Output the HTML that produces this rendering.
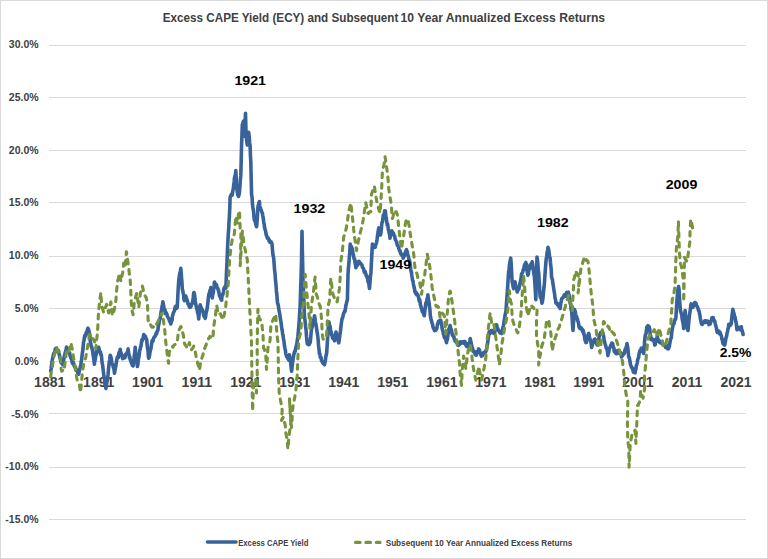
<!DOCTYPE html><html><head><meta charset="utf-8"><style>html,body{margin:0;padding:0;background:#fff;}svg{display:block;}text{font-family:"Liberation Sans",sans-serif;font-weight:bold;}</style></head><body>
<svg width="768" height="559" viewBox="0 0 768 559">
<rect x="0" y="0" width="768" height="559" fill="#fff"/>
<rect x="0.5" y="0.5" width="767" height="558" fill="none" stroke="#d9d9d9" stroke-width="1"/>
<path d="M49 45.5H746M49 97.5H746M49 150.5H746M49 202.5H746M49 256.5H746M49 308.5H746M49 361.5H746M49 413.5H746M49 467.5H746M49 519.5H746" stroke="#d9d9d9" stroke-width="1" fill="none"/>
<g fill="#404040" font-size="10.5" text-anchor="end">
<text x="38.6" y="48.0">30.0%</text>
<text x="38.6" y="100.8">25.0%</text>
<text x="38.6" y="153.6">20.0%</text>
<text x="38.6" y="206.4">15.0%</text>
<text x="38.6" y="259.2">10.0%</text>
<text x="38.6" y="311.9">5.0%</text>
<text x="38.6" y="364.7">0.0%</text>
<text x="38.6" y="417.5">-5.0%</text>
<text x="38.6" y="470.3">-10.0%</text>
<text x="38.6" y="523.1">-15.0%</text>
</g>
<g fill="#404040" font-size="14" text-anchor="middle">
<text x="49.7" y="386.6">1881</text>
<text x="98.7" y="386.6">1891</text>
<text x="147.7" y="386.6">1901</text>
<text x="196.8" y="386.6">1911</text>
<text x="245.8" y="386.6">1921</text>
<text x="294.8" y="386.6">1931</text>
<text x="343.8" y="386.6">1941</text>
<text x="392.8" y="386.6">1951</text>
<text x="441.9" y="386.6">1961</text>
<text x="490.9" y="386.6">1971</text>
<text x="539.9" y="386.6">1981</text>
<text x="588.9" y="386.6">1991</text>
<text x="637.9" y="386.6">2001</text>
<text x="687.0" y="386.6">2011</text>
<text x="736.0" y="386.6">2021</text>
</g>
<text x="162.8" y="21.6" font-size="12.2" fill="#404040" textLength="235.5" lengthAdjust="spacingAndGlyphs">Excess CAPE Yield (ECY) and Subsequent</text>
<text x="400.6" y="21.6" font-size="12.2" fill="#404040" textLength="204.5" lengthAdjust="spacingAndGlyphs">10 Year Annualized Excess Returns</text>
<polyline points="50.7,371.1 51.1,368.7 51.6,365 52,361.7 52.5,358.9 52.9,357.2 53.3,355.2 53.7,353.6 54.1,353.7 54.5,352.4 54.9,351.5 55.3,349.1 55.7,348.6 56.1,348.9 56.5,348 56.9,350 57.4,350.1 57.8,352.1 58.2,350.6 58.6,350.7 59,353.9 59.5,355.2 59.9,357.9 60.4,359.1 60.8,361.7 61.2,362.9 61.6,363.2 62.1,363.3 62.5,363 62.9,364.8 63.4,361.6 63.8,359.2 64.3,356 64.7,355.1 65.2,352.6 65.6,351.2 66.1,350 66.5,347 66.9,348.3 67.3,348.9 67.7,351.6 68.1,350.7 68.5,352 68.9,352.7 69.3,352.7 69.7,352.9 70.1,356.1 70.5,356.3 71,358.4 71.4,358 71.8,359.9 72.2,362.5 72.6,363.4 73,362.1 73.4,362.8 73.8,364.7 74.2,366.1 74.6,366.4 75,367.3 75.4,367.1 75.8,369.2 76.2,370.4 76.6,370 77,370 77.5,371.4 77.9,373.4 78.3,372.2 78.7,374.3 79.1,371.6 79.5,370.3 80,368.2 80.4,366.4 80.8,365.6 81.2,361.6 81.7,359.1 82.1,354.8 82.6,351.4 83,348.9 83.5,342.5 83.9,341 84.4,337.3 84.8,335.6 85.2,336.4 85.7,335 86.1,332.9 86.5,334.1 86.9,331.7 87.2,330.3 87.6,328.9 88,328.2 88.5,329.2 88.9,331 89.4,333.2 89.9,335.3 90.3,341.5 90.8,343.4 91.2,346.4 91.7,346.8 92.1,348.7 92.6,350.9 93,354.4 93.5,357.3 93.9,360.1 94.4,364.2 94.8,360.9 95.3,359.2 95.7,356.2 96.2,354.7 96.6,350.4 97,350.4 97.4,349.1 97.9,348.3 98.3,348.6 98.7,347.3 99.1,349.1 99.5,351 99.9,352.4 100.4,351.8 100.8,354.8 101.2,354.4 101.6,357.1 102,362.2 102.4,363.9 102.9,367.2 103.3,371.1 103.7,374.4 104.1,377.3 104.6,379.5 105,383.8 105.5,386.6 105.9,388.5 106.3,386.1 106.7,383.5 107.2,380.9 107.6,377.6 108,375 108.4,370.2 108.9,365.5 109.3,362 109.8,359.2 110.2,355.2 110.6,356.2 111,357.4 111.5,359.8 111.9,362.6 112.3,364.1 112.7,364.5 113.2,367 113.6,367.8 114.1,370.1 114.5,373.2 114.9,370.4 115.3,368.6 115.8,366.3 116.2,363.3 116.6,361.2 117,358.6 117.4,357 117.8,357.2 118.2,357.8 118.6,354.8 119,352.5 119.4,352.5 119.8,352.4 120.2,349.3 120.6,352.2 121,352.5 121.5,355.4 121.9,356.4 122.3,357.4 122.7,358.6 123.1,356.5 123.5,356.1 124,357.9 124.4,355.5 124.8,357.8 125.2,355.8 125.6,354.3 126,354.4 126.4,353.8 126.9,353.1 127.3,352.1 127.7,352.4 128.1,348.9 128.5,352.2 128.9,354.3 129.4,357.8 129.8,356.6 130.2,359.8 130.6,360 131,361.2 131.4,363.1 131.9,363.7 132.3,365.3 132.7,364.5 133.1,366 133.5,363.2 133.9,359.4 134.4,354.8 134.8,352.4 135.2,347.2 135.6,352.9 136.1,355.2 136.5,358.5 137,362.4 137.4,366.5 137.8,364.7 138.2,360.8 138.6,358.1 139,356.4 139.4,352.8 139.8,349.7 140.2,349.3 140.6,346.7 141,346.3 141.4,343 141.8,339.9 142.2,340.9 142.6,339.2 143,338.8 143.4,336.3 143.8,334.5 144.2,335.6 144.6,335.6 145,336.8 145.5,336.5 145.9,338.8 146.3,338.5 146.7,339.6 147.1,344.3 147.5,348.2 148,350.4 148.4,356.6 148.8,358.2 149.2,357.1 149.6,354.9 150,352.1 150.5,349.8 150.9,348.9 151.3,345.9 151.7,343.3 152.1,340.6 152.5,340.6 152.9,341.2 153.3,339.6 153.8,337.8 154.2,337.2 154.6,336.6 155,336.5 155.4,335.5 155.8,335.1 156.2,332.8 156.7,333.5 157.1,331.4 157.5,330.8 157.9,330.2 158.3,326.7 158.8,324.4 159.2,322.2 159.6,319.9 160,319.2 160.4,316.8 160.8,313.9 161.2,311.1 161.7,309.5 162.1,306.2 162.5,304.3 162.9,301.9 163.3,303.7 163.8,306.9 164.2,309 164.7,310.7 165.1,310.1 165.5,313.6 165.9,313.3 166.4,313 166.8,313.9 167.2,315.4 167.6,316.6 168.1,317.5 168.5,318 169,319.1 169.4,320.9 169.9,321.6 170.3,322.3 170.8,324 171.2,322.4 171.6,320.8 172.1,320.3 172.5,315.4 172.9,314.9 173.3,313 173.8,311.9 174.2,311.3 174.7,309.7 175.1,307.2 175.5,306.9 175.9,306.2 176.4,307.2 176.8,308.3 177.2,307.1 177.6,301.1 177.9,294.3 178.3,287.2 178.7,281 179.1,277.7 179.5,274.8 180,272.3 180.4,271.6 180.8,268.3 181.2,273 181.6,278.6 181.9,281.9 182.3,288.6 182.7,290.6 183.1,292.5 183.6,295.3 184,299.6 184.4,300.7 184.9,299.2 185.3,297.7 185.8,296 186.2,297.3 186.7,299 187.1,299.8 187.6,301.5 188,304 188.4,304.4 188.8,304.4 189.3,307 189.7,304.8 190.1,307.4 190.5,307 191,306.4 191.4,304.8 191.9,303.6 192.3,303.5 192.8,300.2 193.2,298 193.7,292.7 194.1,292.6 194.6,294.7 195,299.1 195.4,302 195.9,305 196.3,305.9 196.7,308.4 197.1,309.7 197.5,311.9 197.9,313.5 198.3,314.8 198.7,318.9 199.1,315 199.4,310 199.8,309.5 200.2,304.8 200.6,306.6 201,307.2 201.5,308.1 201.9,309.5 202.3,309.9 202.7,310.3 203.1,312.6 203.5,314.1 204,316.5 204.4,315.9 204.8,316.5 205.2,318.4 205.6,316.9 206,313.4 206.5,311.3 206.9,310 207.3,307.3 207.8,303.6 208.2,299.1 208.7,295.1 209.1,293.8 209.6,292.2 210,290.4 210.5,289.3 210.9,287.6 211.4,291.5 211.8,295.3 212.3,298 212.7,294.6 213.2,293 213.6,289.2 214.1,286.2 214.5,282 214.9,283.3 215.3,283.6 215.7,284.1 216.1,284.9 216.5,284.8 216.9,286.7 217.3,288.1 217.7,288.1 218.2,290.2 218.6,290.6 219.1,293.5 219.5,295.9 219.9,294.6 220.3,296.5 220.8,299 221.2,299.3 221.6,300.2 222,296.2 222.5,295.4 222.9,294 223.4,292.1 223.8,289.2 224.2,287.9 224.6,287.6 225.1,286.3 225.5,286.6 225.9,288.1 226.2,279.3 226.6,270.4 227,262.1 227.5,249.3 227.9,241.2 228.3,233.8 228.7,228.3 229,222.4 229.4,216 229.8,207.5 230.1,197.2 230.5,196.4 230.9,195.5 231.4,194.3 231.8,194.3 232.2,195.1 232.6,192.5 232.9,190.4 233.3,189 233.7,184.9 234.1,181.9 234.5,177.6 235,175.6 235.4,174.8 235.8,170.6 236.2,178.6 236.5,187.4 236.9,188.2 237.2,191.5 237.6,193.7 238,195.5 238.5,196.4 238.9,195.1 239.4,192.8 239.9,187.2 240.3,180.2 240.8,175.4 241.2,161 241.5,147 241.9,136.3 242.3,124.7 242.8,123.3 243.2,121.8 243.7,121 244.1,129.1 244.4,136.3 244.8,128.2 245.1,121.9 245.5,113.4 246.1,135.8 246.5,139 246.9,142.5 247.3,145 247.8,140.7 248.2,137.5 248.7,132.4 249.2,137 249.6,142.5 250.1,145.6 250.4,154.8 250.8,161.6 251.2,179.2 251.6,194.7 252.1,197.7 252.5,204.8 253,208.4 253.5,210.9 253.9,216.4 254.4,220.2 254.8,220.2 255.3,221.9 255.7,224 256.2,225.8 256.6,226.7 257.1,221 257.5,215.2 258,206.6 258.5,204.8 259,202.3 259.4,201.6 259.8,206 260.1,207.7 260.5,207.9 260.9,209.8 261.4,210.3 261.8,212 262.3,212.9 262.8,215.8 263.2,217.8 263.7,221.8 264.1,223.8 264.6,227.4 265,229.5 265.5,230.6 265.9,233.2 266.3,235.3 266.7,235.7 267.1,237.3 267.5,238.4 267.9,238.6 268.3,238 268.7,239.2 269.1,241.1 269.5,240.2 269.9,242.3 270.4,241.7 270.8,242.6 271.2,241.9 271.6,242.9 272.1,244.5 272.5,250.5 273,255 273.4,256.5 273.8,259.3 274.2,265 274.6,270.1 275.1,274.4 275.5,280.5 275.9,283.7 276.4,290.9 276.8,293.9 277.2,299.3 277.6,303.5 278,304.1 278.4,306 278.9,309.9 279.3,311.6 279.7,313.8 280.1,316.6 280.5,319.3 280.9,321.7 281.3,324.3 281.8,329.1 282.2,329.9 282.6,333.9 283,334.7 283.4,338.9 283.8,340.1 284.2,343.4 284.6,346.9 285,348.7 285.4,350.2 285.8,354 286.2,355.1 286.6,356.5 287,356.1 287.5,357.5 287.9,358.6 288.3,358.1 288.7,360.1 289,356.6 289.4,354.8 289.8,357.8 290.3,361.1 290.7,362.8 291.2,368.1 291.6,371.3 292,367.4 292.4,364.3 292.9,360.3 293.3,358 293.7,354.9 294.1,353.6 294.5,351.5 294.9,352.1 295.4,350.2 295.8,347.5 296.2,346.9 296.6,344.5 297,342.3 297.4,339.5 297.9,336.5 298.3,331.7 298.7,327.2 299.1,322.4 299.4,317.5 299.8,310.5 300.2,305.3 300.6,290.2 301.1,276 301.5,260.5 302,231.3 302.5,256.3 303,282 303.5,291 303.9,301.4 304.4,316 304.8,318.9 305.2,322.4 305.6,326.7 306.1,330.3 306.5,336.4 306.9,340.2 307.3,343.9 307.7,343.9 308.1,343.7 308.5,344.7 309,343.5 309.4,344.5 309.8,342.5 310.2,342.5 310.7,337.8 311.1,333 311.6,328.5 312,327.6 312.4,325.9 312.8,322.3 313.3,322.3 313.7,319.5 314.1,318.9 314.5,315.7 314.9,317.6 315.3,321.3 315.7,323.7 316.1,325.3 316.5,328.1 316.9,330.6 317.3,333.2 317.7,335.9 318.2,340.6 318.6,345.9 319.1,350.3 319.5,354 319.9,353.9 320.3,357.4 320.7,357 321.1,357.4 321.5,360.5 321.9,361 322.3,361.9 322.7,362.7 323.1,363.5 323.6,362.7 324,364 324.5,364.7 324.9,362.6 325.4,360.2 325.8,356.8 326.3,354.8 326.7,352.7 327.1,346.5 327.5,339.7 328,332.6 328.4,326.8 328.8,321.7 329.2,323.5 329.6,326 330,326.1 330.5,329.3 330.9,332.4 331.3,332.2 331.7,334.9 332.1,335.1 332.5,338 332.9,337.7 333.3,337.8 333.7,339 334.1,339.4 334.5,340.8 334.9,338.9 335.2,336.5 335.6,333.9 336,332.1 336.4,333.8 336.8,335.7 337.2,335 337.6,338.3 338,339.8 338.4,341.5 338.8,342.8 339.2,339.9 339.6,337.3 340,333.9 340.5,330.8 340.9,326.8 341.3,323.6 341.7,320.9 342.1,318.6 342.5,318.2 342.9,316.5 343.4,314.3 343.8,312.8 344.2,312.6 344.6,311 345,311.6 345.4,308.9 345.8,305.9 346.2,304.5 346.6,302.5 347,301 347.4,299.7 348,274.4 348.4,268 348.9,263.3 349.3,257.3 349.8,252.5 350.2,244.1 350.6,246.6 351,246.6 351.4,246.6 351.8,248.5 352.2,248.4 352.6,250.6 353,253.7 353.4,254.8 353.8,257.5 354.2,259.2 354.7,259.3 355.1,263.1 355.5,265.2 355.9,267.6 356.3,265.3 356.8,263.4 357.2,265.5 357.7,263.6 358.1,261.7 358.5,261.4 358.9,262.3 359.3,261.5 359.7,263.6 360,263.2 360.4,263.3 360.8,263.4 361.2,264 361.6,264.5 362,265.1 362.4,267.2 362.8,267.7 363.3,268.4 363.7,268.9 364.1,271.5 364.5,272.6 364.9,273 365.3,271.8 365.7,273.8 366.2,275.7 366.6,275.7 367,277.5 367.4,276.9 367.8,280.2 368.2,282.3 368.7,282.2 369.1,286.1 369.5,288.5 370,282.5 370.4,276.6 370.9,272.9 371.3,265.1 371.6,259.3 372,251.2 372.4,244.1 372.8,245.6 373.2,246.5 373.6,245.8 374,247 374.4,247.4 374.8,246.6 375.2,247.2 375.6,244.6 376.1,244.1 376.5,242.6 377,239.6 377.4,236.8 377.9,233.3 378.3,230.3 378.8,227.9 379.2,228.5 379.6,232.3 380.1,232.1 380.5,235 380.9,232.7 381.3,229.7 381.7,224.5 382.1,222.1 382.5,221.9 382.9,219.1 383.3,214.8 383.8,215.2 384.2,215.2 384.6,210.7 385,210.7 385.4,211.2 385.9,217 386.3,217.9 386.8,222.1 387.2,225 387.6,223.9 388,226.8 388.4,230.1 388.8,230.5 389.2,233.5 389.6,234.6 390,238.3 390.4,235 390.8,232.9 391.1,232.4 391.5,231.1 391.9,230.8 392.3,232 392.7,232.9 393.1,233 393.5,233.2 393.9,235.4 394.3,235.5 394.7,235.9 395.1,238.9 395.5,239.8 396,240.8 396.4,241.3 396.8,243 397.2,244.9 397.6,245.8 398,245.8 398.4,246.8 398.9,248.8 399.3,249.7 399.7,251.3 400.1,250.7 400.5,253 400.9,254.3 401.3,254.3 401.7,254.2 402,255.5 402.4,254.4 402.8,255.7 403.2,258.3 403.6,256 404,255.3 404.4,255.9 404.8,253.7 405.3,252.7 405.7,251.3 406.1,252.5 406.5,249.6 406.9,251.3 407.3,251.5 407.7,255 408.2,255.9 408.6,257.7 409,260 409.4,260.3 409.8,261.8 410.2,264.5 410.6,267.9 411,271.4 411.4,272 411.8,275.3 412.2,277.9 412.6,280.5 413,281.1 413.4,284 413.8,286.3 414.2,287.6 414.6,289.5 415,292 415.4,292.6 415.8,293.7 416.2,292.5 416.7,294.9 417.1,294.4 417.5,294.3 417.9,295.4 418.3,296.2 418.8,298.5 419.2,300.9 419.7,299.7 420.1,302 420.5,305.2 420.9,306.1 421.4,308.7 421.8,308.7 422.2,311.5 422.6,310 423,312 423.5,313.8 423.9,314.8 424.3,315.7 424.7,311.9 425.1,308.7 425.4,306.6 425.8,302.9 426.2,303.8 426.6,301.9 427.1,298.5 427.5,299 427.9,294.7 428.3,298.7 428.6,300.2 429,301.9 429.4,306.1 429.9,309.2 430.3,315.4 430.8,318 431.2,320.2 431.6,321.2 432,323.1 432.5,323.9 432.9,326.5 433.3,327.8 433.7,328.8 434.1,328.8 434.5,330.7 434.9,328.8 435.3,329.2 435.7,330.4 436.1,330 436.5,328.9 436.9,328.3 437.2,326.3 437.6,324 438,323.2 438.4,321.7 438.8,322 439.2,320.8 439.6,322.6 440,320.7 440.4,320.9 440.8,320.3 441.2,323.2 441.7,325.1 442.1,328.4 442.6,330.5 443,331 443.4,334.4 443.8,334.2 444.2,337.1 444.6,337.6 444.9,338.3 445.3,337.6 445.7,339.1 446.1,340.9 446.5,342.7 446.9,339.3 447.4,339.5 447.8,335.7 448.3,332.7 448.7,329.4 449.2,328.5 449.6,327.1 450.1,325.5 450.5,327.5 451,329.9 451.4,329.6 451.9,332.9 452.3,335.3 452.7,334.1 453.1,335.9 453.5,336.6 453.9,336.8 454.3,339.3 454.7,339.1 455.1,341.1 455.5,341.1 455.9,341.2 456.3,342.3 456.8,342.4 457.2,342 457.6,345 458,344.8 458.4,345.3 458.8,342.7 459.2,344.8 459.6,344.5 460,343.6 460.4,341.8 460.8,343.4 461.2,342.6 461.6,342.8 462,342.8 462.4,341.9 462.8,342.3 463.3,342.2 463.7,343.2 464.1,341.7 464.5,343.5 464.9,341.5 465.3,343.1 465.7,345 466.1,343.6 466.5,346.2 466.9,346.8 467.3,346.8 467.7,346.1 468.1,346.5 468.5,343.9 469,343.5 469.4,342.6 469.8,342.2 470.2,338.5 470.6,340.4 471,341.9 471.4,344.2 471.8,346.3 472.2,347.9 472.6,348.4 473,351.2 473.4,350.6 473.8,351.8 474.2,351.2 474.6,353.1 475,352.5 475.4,354.6 475.8,355 476.2,355.2 476.6,352.7 477,351.5 477.5,352.5 477.9,351.5 478.3,350.2 478.7,348.9 479.1,351.5 479.5,350.1 479.9,352.1 480.3,354.2 480.7,353.9 481.1,355.3 481.5,356.2 481.9,355.9 482.3,355.8 482.7,355.1 483.2,353.8 483.6,352.7 484,353.1 484.4,352.4 484.8,352.6 485.2,352.7 485.7,351.8 486.1,350 486.5,350.2 486.9,347.4 487.3,344.5 487.6,343.3 488,340.2 488.4,337.4 488.8,333.5 489.2,331.8 489.6,332.7 490,333.6 490.5,331.9 490.9,331.4 491.3,330.6 491.7,330.6 492.1,330.6 492.5,332.4 492.9,331.3 493.3,331.6 493.7,333.3 494.1,333.2 494.5,333.6 494.9,331.3 495.2,328.7 495.6,326.8 496,324.8 496.4,325.5 496.8,325 497.2,328.6 497.6,328.1 498,329.1 498.4,330.3 498.8,331 499.2,331.1 499.6,331.9 500,332.9 500.5,332.2 500.9,333 501.3,331.7 501.7,333.6 502.1,330.4 502.5,330.1 503,327.2 503.4,325.6 503.8,323.4 504.2,320.5 504.7,318.5 505.1,315 505.6,312.8 506,311 506.5,303.2 506.9,297.4 507.4,291.4 507.8,284.3 508.2,278.1 508.6,271.7 509,269.5 509.4,265.2 509.9,262.7 510.3,259.9 510.7,258.2 511.1,262.5 511.5,269.5 511.8,276.1 512.2,282.1 512.7,283.9 513.1,286.5 513.6,288.7 514.1,287.4 514.5,285.2 515,281.8 515.4,285.4 515.9,286.6 516.3,288 516.8,289.5 517.2,292 517.6,290.5 518,290.3 518.5,288.6 518.9,289 519.3,286 519.7,283.9 520.2,283.6 520.6,280.4 521.1,278.3 521.5,273.8 521.9,273.8 522.3,272.9 522.8,271.7 523.2,269.7 523.6,269.9 524,267.6 524.5,264.8 524.9,266.4 525.4,263 525.8,262.5 526.2,263.8 526.6,266.5 527.1,270.8 527.5,273.6 527.9,275.2 528.3,274 528.8,270.7 529.2,268.2 529.7,268.7 530.1,264.9 530.5,265.5 530.9,264.9 531.4,263.5 531.8,263.6 532.2,261.8 532.6,264.9 533.1,267.8 533.5,271.3 534,274.4 534.4,276.6 534.9,283.9 535.3,290.3 535.8,299.6 536.2,284.7 536.6,269.5 537,257 537.4,259.2 537.9,264.8 538.3,270.3 538.7,273.1 539.2,281.7 539.6,288 540.1,296.3 540.5,297.6 541,297 541.4,299.5 541.9,303.1 542.3,302.3 542.7,300 543.1,296.4 543.6,291 544,287.8 544.4,283.3 544.9,275.9 545.3,270.1 545.8,263.3 546.2,259.1 546.7,256.3 547.1,252.4 547.6,250.1 548,247.2 548.4,248.7 548.8,250.3 549.3,254.6 549.7,257.3 550.1,257.9 550.5,263 550.9,266.7 551.2,269.4 551.6,277.5 552,278.3 552.4,279.3 552.9,283.7 553.3,285.6 553.7,288.4 554.1,291 554.6,294 555,297.8 555.5,299.6 555.9,303.1 556.3,302.5 556.8,302.8 557.2,304.4 557.6,304.8 558,303.8 558.5,305.8 558.9,306.7 559.3,305.3 559.8,306.5 560.2,308.6 560.7,303.7 561.1,301.9 561.6,299.2 562,298.3 562.5,297.9 562.9,297.8 563.3,297.1 563.8,296.6 564.2,294.8 564.6,295.8 565,294.5 565.5,295.9 565.9,296.1 566.3,295 566.7,292.2 567.1,294.5 567.5,293.6 567.9,292.4 568.3,292.1 568.7,293.7 569.1,294.9 569.5,297.8 569.8,300.5 570.2,303.7 570.7,303.6 571.1,309.6 571.6,310.9 572.1,317.4 572.5,324.4 573,330.4 573.4,323.3 573.8,320.6 574.1,315 574.5,309.3 574.9,311 575.3,311.7 575.8,315 576.2,317 576.6,316.7 577,318.3 577.4,318.9 577.8,320.9 578.3,322.1 578.7,324.4 579.1,327.2 579.5,328 579.9,328.3 580.3,327.1 580.7,328.8 581.1,327.9 581.5,328.1 581.9,329.7 582.3,329.4 582.7,331.8 583.1,330.3 583.5,331.7 583.9,334.4 584.3,334.7 584.7,338 585.1,340.6 585.5,341 585.9,342.6 586.3,342.5 586.7,339.2 587.1,339 587.6,336.9 588,336.1 588.4,333.8 588.8,333.5 589.2,335.5 589.6,338.5 590,338.8 590.5,341.5 590.9,341.8 591.3,344.6 591.7,347.5 592.1,345 592.5,344.8 592.9,342.9 593.3,342.8 593.7,341.6 594.1,339.6 594.5,339.2 594.9,339.1 595.3,340.4 595.7,341.6 596.2,342.4 596.6,343.2 597,344.9 597.4,343.9 597.8,342.6 598.2,339.7 598.6,340.2 599.1,337 599.5,335.8 599.9,334.2 600.3,333.3 600.7,332.5 601.1,332.2 601.6,332.2 602,331.5 602.4,331.5 602.8,332.6 603.2,334.7 603.6,336.1 604.1,339.6 604.5,341.4 604.9,343.1 605.3,344.7 605.7,345.6 606.2,348.2 606.6,348.2 607,349.1 607.5,351.8 607.9,355.6 608.3,352.9 608.8,352.2 609.2,348.7 609.7,348.3 610.1,347.1 610.5,346 610.9,344.9 611.4,344.9 611.8,343.1 612.2,344.3 612.6,343.4 613,345.2 613.5,347.2 613.9,348 614.3,351.5 614.7,351.2 615.2,350.7 615.6,353.2 616.1,353.5 616.5,352.7 616.9,353.7 617.3,352.8 617.8,350.9 618.2,350.2 618.6,350.3 619,351.8 619.4,353 619.8,353.7 620.3,353 620.7,352.7 621.1,353.6 621.5,357 621.9,356.2 622.3,355.9 622.7,354.6 623.2,354.3 623.6,354.2 624,353.8 624.4,353.1 624.8,350.8 625.3,349 625.7,348.8 626.1,347.1 626.6,347 627,343.5 627.4,345.7 627.9,348.5 628.3,352.9 628.7,357.1 629.1,357.2 629.5,358.7 630,361.3 630.4,363.9 630.8,365.3 631.2,366.3 631.7,367.5 632.1,367.6 632.6,369.1 633,370.5 633.4,372.2 633.8,369.6 634.3,371.4 634.7,372.7 635.1,372.8 635.5,370.6 636,368.2 636.4,365.4 636.9,364.3 637.3,362.6 637.7,359.6 638.1,358.5 638.6,357.3 639,354.2 639.4,352.9 639.8,350.8 640.3,351.9 640.7,350.9 641.2,348.2 641.6,348.8 642,349 642.4,348.1 642.9,351.1 643.3,352 643.7,353.4 644.2,347.8 644.6,341.2 645.1,336.7 645.5,334.3 646,333.9 646.4,330.5 646.9,326.9 647.3,328.7 647.7,327.6 648.1,325.7 648.6,326.7 649,326.6 649.4,327.9 649.8,329.5 650.1,333.8 650.5,335.3 650.9,339.4 651.3,338.4 651.7,338.2 652.2,340 652.6,339.6 653,340.5 653.4,339.6 653.9,341 654.3,342.4 654.8,345.1 655.2,344.7 655.6,341.6 656,339 656.5,341.6 656.9,338.9 657.3,336.2 657.7,338.8 658.1,339.5 658.5,341.4 659,340.6 659.4,340.9 659.8,342.7 660.2,341.8 660.6,342.8 661,342.5 661.4,343.1 661.8,342.7 662.2,342.8 662.6,343.3 663,344.7 663.4,344.6 663.8,344.7 664.2,345.4 664.7,345.8 665.1,345.8 665.5,347.3 665.9,346 666.3,346.5 666.7,346.2 667.1,347.9 667.6,348.6 668,345.5 668.4,348.9 668.8,347.8 669.2,347 669.6,344.7 670.1,341.6 670.5,339.5 670.9,338.4 671.3,337.8 671.8,331.9 672.2,329.7 672.7,326.9 673.1,324.1 673.5,324.2 673.9,323.9 674.3,321.2 674.7,320.6 675.1,319 675.5,319.5 675.9,317.2 676.3,310.6 676.8,302.8 677.2,296.7 677.7,292.1 678.1,287.9 678.6,286.5 679,289 679.4,296.2 679.7,301.4 680.1,306.5 680.5,311.2 680.9,312.1 681.4,313.8 681.8,315.7 682.2,319 682.6,320.8 683,322.8 683.3,324.6 683.7,328.5 684.2,322.2 684.6,316.6 685.1,310.5 685.6,315.2 686,320.7 686.5,323.8 686.9,326.4 687.2,327.2 687.6,329.1 688,330.5 688.5,325.1 688.9,320.4 689.4,315.7 689.9,312.5 690.3,310.1 690.8,305.1 691.2,303.9 691.7,307.3 692.1,306 692.6,306.1 693,307.3 693.4,306 693.8,305.1 694.3,303.8 694.7,302.6 695.1,302.5 695.5,303.7 696,303.3 696.4,305.4 696.9,305.7 697.3,306.8 697.7,307.5 698.1,308.8 698.6,310.8 699,310.8 699.4,313 699.8,314.4 700.3,318.3 700.7,320 701.2,322.6 701.6,324.1 702,323.4 702.4,324.4 702.8,322.9 703.2,322.6 703.6,322.4 704,322.4 704.4,321.6 704.8,320.8 705.2,320.8 705.6,322.4 706.1,321.3 706.5,321.4 706.9,320.9 707.3,322.3 707.7,322.4 708.1,322 708.5,321.4 709,324.6 709.4,323.2 709.8,323.1 710.2,324 710.6,322.1 711,321.6 711.5,319.7 711.9,317.8 712.3,317.8 712.7,317.5 713.2,317.5 713.6,320.2 714.1,320.3 714.5,320.7 714.9,321.7 715.3,323.9 715.7,325.4 716.1,326.9 716.5,328.3 716.9,331.2 717.3,332.4 717.7,332.1 718.1,332.5 718.5,331.8 719,331.2 719.4,333 719.8,333.9 720.2,332.4 720.6,333.9 721,335.3 721.5,336.3 721.9,339.2 722.3,339.3 722.7,342.4 723.2,343.8 723.6,343.7 724.1,344.7 724.5,345.2 724.9,344.6 725.3,342 725.8,338.7 726.2,337.2 726.6,336.3 727,333.2 727.5,331.7 727.9,329.2 728.4,327.8 728.8,324.3 729.2,325.2 729.6,325.3 730.1,325.5 730.5,324.1 730.9,324.6 731.3,323.6 731.7,318.5 732,315.3 732.4,313.1 732.8,309.2 733.2,310.8 733.6,312.6 734.1,314.1 734.5,316.6 735,316.9 735.4,319.5 735.9,321.8 736.3,323.5 736.6,326.5 737,329.8 737.4,329.3 737.8,328.9 738.2,328.6 738.7,328 739.1,327.4 739.5,327.6 739.9,329 740.4,329.8 740.8,328.1 741.3,326.8 741.7,329.9 742.2,330.6 742.6,332.2 743.1,334.5" fill="none" stroke="#38629a" stroke-width="3.6" stroke-linecap="round" stroke-linejoin="round"/>
<polyline points="50.7,376.8 51.1,373.1 51.6,370.9 52,368.2 52.5,365.9 52.9,362.4 53.3,360.8 53.7,358.6 54.1,356.4 54.5,354.4 54.9,352.5 55.3,350.5 55.7,348.2 56.1,349.2 56.6,349.3 57,348.6 57.5,350.8 57.9,350.6 58.3,351.5 58.7,352.9 59.2,353.9 59.6,354.8 60,355.5 60.4,359.8 60.8,363.1 61.1,368.2 61.5,371.1 61.9,371.1 62.3,370.8 62.7,370.4 63.1,369.8 63.5,369.7 63.9,367.7 64.3,368.6 64.7,365.1 65.2,361.6 65.6,358.9 66.1,354.5 66.5,351.4 66.9,350.4 67.3,351.2 67.7,350.2 68.1,350 68.5,351.4 68.9,350.5 69.3,350 69.7,348.3 70,345.9 70.4,344.2 70.8,343 71.2,344 71.6,347 72.1,348.1 72.5,350.9 72.9,352.4 73.3,356.4 73.8,359 74.2,361.3 74.7,363.6 75.1,366.9 75.5,369.8 75.9,372 76.4,375.1 76.8,378 77.2,380.1 77.6,380.8 78.1,382.1 78.5,382.5 79,383.9 79.4,384.2 79.8,387.9 80.1,390 80.5,392.5 80.9,388.3 81.3,383.4 81.8,378.6 82.2,374.3 82.6,372.2 83,368.5 83.3,366.8 83.7,364.3 84.1,362.8 84.5,361.8 85,359.5 85.4,358.9 85.8,357.1 86.2,354.6 86.7,351.9 87.1,349.3 87.6,346.6 88,344.4 88.5,341.8 88.9,338 89.4,334.6 89.8,335.1 90.2,335.2 90.7,336.2 91.1,337.4 91.5,336.6 91.9,337.9 92.3,338.4 92.7,338.5 93.2,339.1 93.6,339.7 94,340.5 94.4,340.5 94.9,343.5 95.3,345.8 95.8,348.9 96.2,345.1 96.5,341.5 96.9,337.7 97.3,334.5 97.8,326.8 98.2,318.1 98.7,310.3 99.2,306.1 99.6,301.6 100.1,297.7 100.5,295.2 100.9,292.5 101.2,298.3 101.6,304.8 102,306.4 102.4,308.3 102.9,309.7 103.3,311.4 103.7,312.3 104.1,312.3 104.5,310.2 104.9,309.8 105.4,307.7 105.8,306.6 106.2,305.8 106.6,304.3 107,305.9 107.4,308.2 107.9,309.9 108.3,311.4 108.7,312.9 109.1,310.4 109.6,308.2 110,305.9 110.5,303.9 110.9,301.9 111.4,306.3 111.8,310.8 112.3,315.6 112.7,315 113.2,313.1 113.6,311.7 114.1,310.2 114.5,308.9 115,305.9 115.4,303.5 115.9,300.5 116.4,293.3 116.8,288.7 117.3,284.2 117.7,280.5 118.2,279 118.6,277.4 119.1,274.9 119.5,273.4 120,275.3 120.4,278.1 120.9,281.4 121.3,278.9 121.8,276.5 122.2,274.9 122.7,272.5 123.1,270.1 123.4,266.3 123.8,263 124.3,264.3 124.7,265.5 125.2,267.4 125.6,262.1 126,256.8 126.4,251.8 126.9,254.6 127.4,258.5 127.9,261.7 128.3,265.8 128.8,268.8 129.3,273.3 129.7,276.9 130.2,280 130.6,286.8 130.9,294.6 131.2,301.4 131.6,308.6 132,309.7 132.3,311.8 132.7,313.1 133.1,314.7 133.6,310.3 134,305.5 134.5,300.7 134.9,299.8 135.4,297.9 135.8,296.2 136.3,295.1 136.7,293 137.1,296.5 137.5,298.8 138,301.9 138.4,304.6 138.8,307.6 139.3,302.5 139.7,299.1 140.2,294.4 140.6,292.3 141.1,291.2 141.5,289.4 142,288 142.4,286.1 142.9,288.3 143.3,289.9 143.8,293.7 144.2,294.5 144.7,295 145.1,295.8 145.6,296.9 146,297 146.5,299.5 146.9,301.1 147.4,302.6 147.8,311.6 148.1,320.1 148.5,321.2 148.9,321.4 149.3,321 149.7,322 150.2,323.8 150.6,324.9 151.1,325.8 151.5,326.7 151.9,327.1 152.4,326.6 152.8,326.6 153.2,327.1 153.7,326.7 154.1,326.2 154.5,325.9 154.9,326.1 155.4,326.7 155.8,325.7 156.3,325.6 156.7,323.7 157.2,322.9 157.6,322.5 158,321.1 158.4,320.6 158.9,319.2 159.3,319.2 159.7,318.6 160.1,317 160.5,316.5 160.9,315.4 161.4,313.9 161.8,315 162.2,313.3 162.6,315.9 163,318.3 163.5,320.7 163.9,324.2 164.3,325.1 164.8,330.9 165.2,336.1 165.7,341.4 166.1,345 166.4,347.7 166.8,350.6 167.2,353.9 167.7,357.4 168.1,360.5 168.6,363.3 168.9,357.9 169.3,351.4 169.7,351.4 170.1,350.6 170.5,349.7 171,348.8 171.4,348.9 171.8,347.6 172.2,347.2 172.6,346.5 173,347.2 173.4,346 173.9,345.4 174.3,345.1 174.7,344.7 175.1,344.4 175.5,343.1 175.9,342.8 176.4,342.9 176.8,342.5 177.2,341.1 177.7,338.2 178.1,334.6 178.6,330.6 179,330.4 179.5,329.1 179.9,328.8 180.4,327.4 180.8,326.5 181.2,327.2 181.6,329.1 182.1,329.6 182.5,331.7 182.9,333.5 183.3,334.9 183.7,338.3 184,341 184.4,342.9 184.8,344.3 185.2,344.8 185.7,345.4 186.1,345.6 186.5,346.9 186.9,346.1 187.3,347 187.7,345.6 188.2,344.8 188.6,343.7 189,344.3 189.4,342.5 189.8,345 190.2,346.3 190.7,347.3 191.1,348.4 191.5,350.1 191.9,348.7 192.4,348.6 192.8,348.2 193.3,347 193.7,346.2 194.1,347.2 194.5,349.4 195,350.5 195.4,352.5 195.8,354.7 196.2,357.2 196.6,358 196.9,359.8 197.3,360.8 197.7,363.4 198.1,364.7 198.6,366.2 199,367.9 199.4,370.3 199.9,367.2 200.3,364.7 200.8,361.5 201.2,360.2 201.6,359.3 202,357.6 202.5,356.2 202.9,355 203.3,353.1 203.7,351.2 204.1,350.1 204.5,348.5 204.9,348.1 205.4,346.5 205.8,345.7 206.2,344.6 206.6,342.7 207,342.2 207.4,341.9 207.8,340.5 208.2,340.1 208.6,338.8 209,337.6 209.4,337.1 209.8,336.4 210.2,337.5 210.6,337 211,337.7 211.4,336.7 211.8,337.3 212.2,337.3 212.6,337.1 213,337.4 213.3,331.9 213.7,326.8 214.1,324.1 214.4,322 214.8,319.4 215.2,317.3 215.7,313.2 216.1,309.3 216.6,305.4 217.1,307.3 217.5,310.4 218,313.1 218.4,312.6 218.8,313.2 219.2,313.8 219.7,313.4 220.1,314 220.5,313.9 220.9,315.3 221.3,316 221.7,317.1 222.2,317.4 222.6,319.1 223,319.9 223.4,318.1 223.9,315.8 224.3,314.1 224.8,311.7 225.2,310.1 225.7,307 226.1,302.1 226.6,298.5 227,295.9 227.3,292.7 227.7,288.9 228.1,286 228.6,278 229,270.2 229.5,262.6 229.9,256.8 230.4,252.5 230.8,247.4 231.3,244.7 231.7,242.8 232.2,239.7 232.6,238.2 233.1,237.8 233.5,235.4 234,235.1 234.4,233.4 234.9,227.5 235.3,222.1 235.8,216.3 236.3,219.1 236.7,220.4 237.2,223.6 237.6,219.7 238.1,217.9 238.5,214.1 239,212.5 239.4,210.6 239.8,218.5 240.1,227 240.5,230.6 240.9,234.5 240.6,250.4 240.2,265.7 240.6,258 241.1,252 241.5,245.3 242,238.9 242.4,231.1 242.8,234.6 243.3,237.8 243.7,241.9 244.1,244.4 244.4,245.4 244.8,248 245.2,249.7 245.6,251.8 246,254 246.5,256.2 246.9,257.7 247.3,259.9 247.7,268.6 248.1,276.2 248.5,284.3 248.9,292.2 249.3,299.9 249.7,308.8 250.2,317.4 250.6,325.8 251.1,334.8 251.5,343 251.8,367.6 252.2,391.5 252.6,411.1 253.1,397.3 253.6,384.1 254,382.7 254.5,382.5 254.9,381.1 255.4,379.8 255.8,378.9 256.1,385.4 256.5,392.9 256.9,387 257.2,380.7 257.2,342.9 257.5,325.4 257.9,309.2 258.4,311.6 258.8,315 259.3,319 259.7,319.2 260.2,319.2 260.6,320.4 261.1,320.6 261.5,322.2 262,324.9 262.4,328.9 262.9,331.9 263.2,339.9 263.6,348.1 264,348.7 264.5,349.7 264.9,351.7 265.4,352.9 265.8,354.4 266.1,362.6 266.5,369.5 267,362.7 267.4,356 267.9,348.3 268.3,346.2 268.8,345.6 269.2,343.7 269.7,341.8 270.1,340 270.5,333.2 270.8,326 271.2,324.7 271.6,323.7 272.1,322.2 272.5,321 272.9,320.6 273.3,319.1 273.7,319.2 274.1,317.8 274.6,316.8 275,316.4 275.4,314.9 275.8,314.2 276.1,321.3 276.5,328.6 276.9,332.5 277.2,336.7 277.6,339.6 278,342.6 278.6,379.7 279,386.4 279.3,394.6 279.7,396.5 280.1,398 280.4,399.8 280.8,401.7 281.3,404.5 281.7,407.5 282.2,410.2 281.9,414.7 281.5,420.5 281.9,420.1 282.3,418.3 282.8,418.3 283.2,417.3 283.6,417.4 284,418.9 284.4,421.4 284.7,423.1 285.1,424.2 285.5,428.5 285.8,432.8 286.3,435.6 286.7,437.3 287.2,440.3 287.5,443.8 287.9,449.1 288.3,445 288.6,440.4 289,436.6 289.4,433.1 289.9,429.7 290.3,425.1 290.8,423 290.3,415.4 289.9,406.5 289.4,398 289.8,404.6 290.1,409.6 290.5,415.1 291,421.8 291.5,427.5 292,420.8 292.4,413.7 292.9,406.7 293.3,404.9 293.6,402.5 294,401.4 294.4,398.8 294.9,396.6 295.3,393.2 295.8,391.4 296.2,387.1 296.6,383 296.9,378.8 297.3,374 297.6,364 298,354.8 298.4,348.2 298.7,340.9 299.1,338.3 299.6,336.3 300,335 300.5,333.4 300.9,332.2 301.2,325 301.6,318.3 302,315.3 302.4,310.9 302.9,307.1 303.3,303.9 303.7,299.9 304.2,291 304.6,282.8 305.1,274.2 305.6,279.6 306,284.6 306.5,290.4 306.9,294 307.3,297.8 307.7,302.4 308.1,305.5 308.5,310.1 308.9,313.9 309.3,317.5 309.9,328.4 310.4,319.6 310.9,312.3 311.3,308.2 311.6,304.7 312,301.6 312.4,298.7 312.7,296.6 313.1,294.2 313.5,291.1 313.9,287.5 314.3,284.4 314.7,280.3 315.1,277.1 315.5,283.1 315.9,288.9 316.3,294.2 316.7,295.3 317.2,296.6 317.6,298.1 318.1,300.5 318.5,301.1 318.9,302.7 319.3,304.3 319.8,305.5 320.2,306.3 320.6,308.7 321,312.3 321.3,316.6 321.7,321.1 322.2,333.6 322.6,336.1 322.9,337.8 323.3,339.6 323.7,339.1 324.1,339.1 324.5,338.5 324.9,337.8 325.3,337.2 325.7,336.7 326.1,336.6 326.5,336.2 326.9,329.6 327.2,323.8 327.6,316.8 328.1,306.3 328.5,304.6 328.9,302.7 329.3,301.5 329.7,298.5 330.1,292.2 330.4,284.9 330.8,278.2 331.2,280.5 331.7,284.4 332.1,288.2 332.6,291.4 333,294.1 333.4,295.5 333.8,296.2 334.3,297.8 334.7,299.2 335.1,300.5 335.5,300.5 335.9,301 336.4,301.3 336.8,300.9 337.2,301.8 337.6,299.3 338.1,296.3 338.5,293.4 339,291.2 339.4,288.7 339.8,283.2 340.2,276.6 340.5,268.5 340.9,260.9 341.4,257.8 341.8,254.3 342.3,251.4 342.8,246.6 343.2,241.6 343.7,237 344.1,235.7 344.6,233.8 345,232.8 345.5,231.5 345.9,229.5 346.4,227.5 346.8,224.6 347.3,222.9 347.7,219.2 348.2,215.2 348.6,211.6 349,210.2 349.5,208.7 349.9,206.3 350.4,205.2 350.8,203.1 351.3,206.5 351.7,211.3 352.2,214.8 352.6,218.8 353,222.4 353.4,225.6 353.7,229.7 354.1,233.2 354.5,237.7 354.9,238.8 355.3,242.5 355.8,244.7 356.2,247.8 356.6,250.6 357,247.5 357.5,246 357.9,243.6 358.4,240.3 358.8,239.3 359.2,236.5 359.6,234.9 360,234.2 360.4,232 360.8,230.7 361.2,229 361.6,227.1 362,226.5 362.4,224.9 362.8,221.7 363.2,219.6 363.7,216.3 364.1,213.8 364.5,210.9 364.9,207.8 365.4,205.5 365.8,202.6 366.2,205.2 366.7,207.1 367.1,208.8 367.6,211.5 368,213.1 368.4,213.5 368.8,212.4 369.2,212.2 369.6,211.9 370,212.1 370.4,211.7 370.8,211.6 371.1,203.7 371.5,194.7 371.9,192.9 372.3,192.1 372.7,190.6 373.2,189.4 373.6,188.2 374,187.1 374.4,186.1 374.9,189.6 375.3,192.5 375.8,195.6 376.2,198 376.6,200.1 376.9,202.2 377.3,204 377.7,205.7 378.1,206.2 378.5,208.7 378.9,209.7 379.3,210.9 379.7,211.4 380.1,213.1 380.5,207.8 380.9,201.5 381.2,195.4 381.6,190.1 382,180.6 382.3,173.3 382.8,170.7 383.2,167.6 383.7,166.1 384.2,163.2 384.6,159.9 385.1,156.8 385.5,159.8 385.9,161.9 386.2,165.1 386.6,167.1 387.1,170.8 387.5,174.7 388,178.3 388.4,183.9 388.7,188.4 389.1,191 389.4,193.1 389.8,195.8 390.2,198 390.7,200.9 391.1,204.8 391.6,208.6 392.2,218.4 392.6,218.1 393,216.6 393.4,214.8 393.8,213.1 394.2,212.2 394.6,211.2 395,210.6 395.4,210.3 395.9,212.3 396.3,212 396.8,213.6 397.2,213.8 397.7,218 398.1,221 398.6,226 399,229.4 399.4,232.5 399.7,235.7 400.1,240.1 400.6,243 401,245.3 401.5,248.9 401.9,246.1 402.3,243.1 402.8,240.6 403.2,237.4 403.6,236.1 404,233.3 404.5,230 404.9,226.7 405.4,223.9 405.8,221.4 406.2,220.6 406.6,220.5 407.1,219.4 407.5,219.5 407.9,219.1 408.3,220.9 408.6,223.3 409,224.9 409.4,228.6 409.8,231.3 410.2,233.4 410.7,236.8 411.1,238.6 411.5,241 411.9,244.4 412.4,246.8 412.8,248.4 413.3,251.5 413.7,253.9 414.2,259.1 414.6,264 415.1,268.5 415.5,270 415.9,271.6 416.4,272.3 416.8,273.2 417.2,274.6 417.6,276.7 418,278.3 418.4,278.9 418.9,280.5 419.3,281.3 419.7,282.7 420.1,284.7 420.6,287.4 421,291 421.5,294.3 422,291 422.4,286.8 422.9,282.9 423.3,280.6 423.8,278.3 424.2,276.8 424.7,275 425.1,271.4 425.5,268.9 426,264.6 426.4,261.2 426.9,257.8 427.3,254.2 427.7,256.2 428.1,258.2 428.6,261.1 429,261.8 429.4,264.1 429.9,267.6 430.3,271.5 430.8,274.5 431.3,279.1 431.7,283.2 432.2,288 432.6,289.7 433.1,291.7 433.5,294.1 434,297 434.4,298.5 434.9,300.7 435.3,303.1 435.8,305.6 436.2,306.3 436.6,305.8 437,306.2 437.5,306.6 437.9,306.4 438.3,307.3 438.7,307 439.2,310.8 439.6,314.1 440.1,317.9 440.5,317.1 441,315.2 441.4,314.2 441.9,313.4 442.3,313.2 442.7,313.8 443.1,314.1 443.6,314.7 444,315.8 444.4,316.1 444.9,322.1 445.3,328.5 445.8,333.9 446.2,329.6 446.6,324.6 446.9,318.4 447.3,312.8 447.8,307.8 448.2,301.3 448.7,295.8 449.2,294.4 449.6,292.4 450.1,291.1 450.5,292 450.9,293.7 451.2,296.9 451.6,298.8 452.1,302.1 452.5,305.2 453,308.7 453.5,312.2 453.9,314.9 454.4,318.8 454.8,321.6 455.1,326 455.5,328.5 455.9,331.7 456.4,336.3 456.8,340.6 457.3,344.9 457.7,347.6 458.1,351.4 458.5,355.1 458.9,358.2 459.3,361.5 459.7,367 460.1,373.1 460.6,377.9 461,381.1 461.5,385.4 461.9,377.5 462.2,369.5 462.7,365.8 463.1,361.3 463.6,356 464,358.4 464.5,361.5 464.9,364 465.4,365.2 465.8,368.7 466.2,366.2 466.6,361.7 467.1,358.1 467.5,354.7 467.9,352.1 468.3,349.9 468.8,348.8 469.2,347.7 469.7,345.8 470.1,344.3 470.5,346.7 470.9,349.5 471.4,353.3 471.8,355.2 472.2,359 472.6,362 472.9,364.9 473.3,367.2 473.7,369.8 474.1,372.1 474.5,374.6 475,376.3 475.4,378.3 475.8,380.1 476.2,378.6 476.6,375.6 477,374.1 477.5,373.3 477.9,371.1 478.3,369.3 478.7,366.4 479.1,368.7 479.5,370.7 479.9,372.7 480.3,375 480.7,376.2 481.1,378.3 481.5,379.8 481.9,378 482.4,376.2 482.8,374.3 483.3,372.5 483.7,369.6 484.1,368.1 484.5,365.7 485,362.9 485.4,361.4 485.8,358.3 486.2,353.5 486.6,348.8 486.9,344.2 487.3,338.4 487.7,335.6 488.1,331.7 488.4,327.6 488.8,324.7 489.3,320.6 489.7,316.5 490.2,312.9 490.6,316 490.9,318.1 491.3,320.4 491.7,323.3 492.1,322.7 492.5,323.8 493,324.4 493.4,323.7 493.8,324 494.3,326.9 494.7,330.1 495.2,332.7 495.6,335.9 495.9,338.4 496.3,341.7 496.7,344.7 497.1,347.5 497.5,350 497.9,353.4 498.2,355.3 498.6,358.5 499,361.5 499.4,364.9 499.8,361.4 500.1,358.9 500.5,356.4 500.9,353.7 501.4,349.8 501.8,345 502.3,341.6 502.7,339.6 503.1,337.5 503.4,335.3 503.8,333 504.2,330.7 504.7,327.9 505.1,326.4 505.6,324 506,321.4 506.5,319.4 506.9,315.9 507.4,312.7 507.9,308.8 508.2,303.1 508.6,297.6 509,293.7 509.3,290.5 509.8,294.1 510.2,298.3 510.7,301.7 511.1,302.6 511.5,303.9 511.9,311.7 512.2,319 512.6,319.5 513,321.7 513.5,322.9 513.9,324.5 514.3,325.5 514.7,326.2 515.1,327.2 515.5,327.9 515.9,328.8 516.3,329.8 516.7,330.6 517.1,332.1 517.5,331.8 517.9,332.8 518.4,331.1 518.8,329.4 519.3,326.8 519.7,323.8 520,321.6 520.4,318.8 520.8,316 521.3,309 521.7,301 522.2,294.9 522.7,288.2 523.1,282.9 523.6,275.7 524,279.3 524.4,284.4 524.7,288.8 525.1,293.1 525.5,298.7 525.8,304.1 526.2,305.9 526.6,308.8 527.1,311.1 527.5,313.2 527.9,315.8 528.3,314.3 528.7,312.2 529.1,311.2 529.6,309.8 530,308.6 530.4,307.9 530.8,305.8 531.2,306.3 531.6,305.6 532,307.2 532.4,306.8 532.8,307.6 533.2,307.2 533.6,308 534,308.6 534.4,308.6 534.8,308.7 535.2,308.3 535.6,308.3 536,308.7 536.4,308.5 536.8,308.7 537.2,308.3 536.9,313.5 536.5,318.9 536.5,337.9 536.9,339.7 537.4,342.2 537.8,345.1 538.3,348 538.7,350.3 538.7,364.9 539.1,362 539.5,359.2 539.9,356.4 540.3,355 540.7,352.3 541.1,349.5 541.5,347.4 541.9,345.4 542.3,344.8 542.7,343.4 543.2,342 543.6,340 544,339.3 544.4,337.6 544.8,334.8 545.2,330.3 545.7,328.2 546.1,325.2 546.5,321.4 546.9,321.6 547.4,321 547.8,321.2 548.3,320.3 548.7,320.1 549.1,322.2 549.5,326.1 550,327.5 550.4,330 550.8,332.7 551.2,337.3 551.5,341.6 551.9,346.1 552.3,350.8 552.7,348.6 553.1,345.6 553.6,344.2 554,342.1 554.4,340.4 554.8,338.9 555.2,338.2 555.6,336.5 556.1,336 556.5,333.6 556.9,333.2 557.3,331.9 557.7,330.2 558.1,329 558.5,328.2 559,327.6 559.4,327.1 559.8,324.8 560.2,324.3 560.6,322.5 561,321.8 561.4,320.1 561.8,318.6 562.2,317.5 562.6,315.9 563,314.9 563.4,312.8 563.8,311.2 564.2,310 564.7,308.6 565.1,307.7 565.5,305.6 565.9,304.1 566.3,302.8 566.7,301.5 567.1,299.9 567.5,299.4 567.9,298.4 568.3,297 568.7,295.4 569.1,297.8 569.6,299.4 570,301 570.5,302.8 570.9,304.3 571.4,306.9 571.8,309.3 572.3,311 572.6,304.2 573,296.9 573.4,288.8 573.8,279.1 574.2,278.5 574.6,276.7 575.1,274.9 575.5,273.4 575.9,270.9 576.3,272.5 576.8,272.9 577.2,273.8 577.7,275.5 578.1,275.7 578.6,276.7 579,276.8 579.5,277.2 579,282.4 578.6,287.2 578.1,292.9 578.5,289.6 578.9,286.6 579.3,282.9 579.7,279.4 580.1,275.3 580.5,271.9 580.9,268.9 581.3,267.5 581.8,265.4 582.2,264.8 582.7,262.7 583.1,261.6 583.6,259.7 584,258.5 584.5,256.8 584.9,257.6 585.3,257.6 585.8,258.7 586.2,260.3 586.6,260.1 587,260.6 587.4,260.9 587.7,261 588.1,262.2 588.6,266.4 589,269.8 589.5,274.6 590,280.4 590.4,285.1 590.9,290.2 591.3,294.3 591.8,297.9 592.2,300.8 592.7,304.6 593.1,309.2 593.6,318.4 594,320.3 594.4,321.8 594.9,324.5 595.3,325 595.7,327.3 596.1,329.9 596.5,332.8 596.8,335.3 597.2,338.3 597.7,341.4 598.1,344.4 598.6,346.5 599.1,349.2 599.5,350.7 600,353 600.4,349.2 600.8,345.8 601.1,342.1 601.5,338.8 601.9,335.2 602.3,331.1 602.8,327.4 603.2,324.4 603.6,321.6 604,321.7 604.5,322.8 604.9,324.8 605.4,324.8 605.8,325.7 606.2,326.1 606.6,326.5 607,326.2 607.4,326.6 607.8,326 608.2,327.1 608.6,327.4 609,327.1 609.4,328.8 609.8,329.8 610.3,328.6 610.7,330.2 611.1,331.4 611.5,331.8 611.9,331.6 612.3,332.1 612.7,332.6 613.1,333.4 613.5,333.2 613.9,333.3 614.3,334.4 614.7,335.2 615.1,337.4 615.5,337.6 616,339.3 616.4,340.4 616.8,341.1 617.2,342.7 617.6,343.6 618,345.9 618.4,346.8 618.9,348.2 619.3,349.5 619.7,352.1 620.1,353.2 620.5,354 620.9,355.8 621.4,357.5 621.8,358.9 622.2,360.1 622.6,362.1 623,366.5 623.3,368.7 623.7,372.1 624.2,377.8 624.6,385.3 625,388 625.4,390.3 625.8,391.8 626.2,394.6 626.6,396.9 627,397.6 627.4,399.8 627.8,401 627.4,424.7 627.8,440.2 628.2,443.4 628.7,446.5 629.1,467.2 629.5,459.5 629.9,450.2 630.3,443 630.7,441.7 631.1,439.1 631.5,437.4 631.9,434.8 632.3,434.4 632.7,433.2 633.1,433.3 633.5,432.6 633.9,431.8 634.3,431.3 634.7,430.7 635.1,430.2 635.5,436.9 635.9,443.4 636.3,433.3 636.7,425.4 637.1,416 637.5,405.4 637.9,405 638.3,405.2 638.7,403.3 639.1,403.1 639.5,402 639.9,400.5 640.3,396.1 640.7,390.7 641.1,392.3 641.5,393.9 641.9,394.9 642.3,395.9 642.7,396.6 643.1,398.2 643.5,395.6 644,392.6 644.4,389.8 644.8,386.8 644.4,377.5 644.8,372.1 645.3,368.2 645.7,362.3 646.2,357.5 646.6,352.7 647.1,347.9 647.5,343.9 648,338.5 648.4,337.7 648.8,336.9 649.2,336.1 649.6,335.9 650,335.1 650.4,333.9 650.9,334.3 651.3,333.5 651.7,332.9 652.1,332.9 652.6,332 653,331.6 653.4,331.1 653.9,330.2 654.3,329.7 654.7,331 655.1,332.1 655.6,333.4 656,334.5 656.4,336.3 656.8,334.9 657.2,334.2 657.6,333 658.1,331.4 658.5,330.6 658.9,329.1 659.3,328 659.7,330.6 660.2,332.1 660.6,333.9 661.1,336 661.5,336.8 661.9,339.2 662.3,340.4 662.8,342.9 663.2,345.5 663.6,346.7 664,346.2 664.5,346 664.9,346.3 665.4,345.4 665.8,344.4 666.2,342.9 666.6,340.8 667,338.8 667.4,336.9 667.8,335.5 668.2,333.4 668.6,331.9 669,329.9 669.5,329 669.9,327.1 670.4,326.3 670.8,324.8 671.1,318.4 671.5,313.9 671.9,306.7 672.2,299.8 672.7,298.2 673.1,297.3 673.6,295.8 674,292.6 674.4,289.6 674.7,287 675.1,283.9 675.5,272.7 675.8,261.2 676.1,254.6 676.5,246.3 677,244.3 677.4,239.4 677.9,235.8 678.4,221 678.9,237 679.4,251.5 679.8,256.5 680.1,261.2 680.5,263.5 680.9,265.2 681.4,266.5 681.8,269.1 682.2,269.8 682.6,274.4 683,277.7 683.3,280.7 683.7,284.9 683.7,301.7 684.2,279.8 684.4,257.3 684.8,257.9 685.2,258.7 685.6,258.9 686,260.5 686.4,260.5 686.8,261.6 687.2,261.5 687.6,258.8 688,255.5 688.3,253 688.7,250.7 689.1,247.8 689.4,245.1 689.8,242.8 690.1,228.8 690.5,223.5 690.8,219.4 691.2,220.5 691.5,222.2 691.9,224.3 692.3,226.4 692.6,228.7 693,232.9" fill="none" stroke="#77933c" stroke-width="3.1" stroke-dasharray="4.6 5.8" stroke-linecap="round" stroke-linejoin="round"/>
<g fill="#000" font-size="13.2">
<text x="234.4" y="85.2" textLength="31.6" lengthAdjust="spacingAndGlyphs">1921</text>
<text x="293.6" y="212.8" textLength="31.6" lengthAdjust="spacingAndGlyphs">1932</text>
<text x="379.5" y="268.7" textLength="31.6" lengthAdjust="spacingAndGlyphs">1949</text>
<text x="537.0" y="227.1" textLength="31.6" lengthAdjust="spacingAndGlyphs">1982</text>
<text x="665.7" y="189" textLength="31.6" lengthAdjust="spacingAndGlyphs">2009</text>
<text x="719.8" y="357.3" textLength="31.6" lengthAdjust="spacingAndGlyphs">2.5%</text>
</g>
<path d="M207.5 542H236" stroke="#38629a" stroke-width="3.6" stroke-linecap="round"/>
<text x="238.2" y="545.6" font-size="8.6" fill="#404040" textLength="70.2" lengthAdjust="spacingAndGlyphs">Excess CAPE Yield</text>
<path d="M355.5 542.4H380" stroke="#77933c" stroke-width="3.1" stroke-dasharray="4.6 5.8" stroke-linecap="round"/>
<text x="385.7" y="545.6" font-size="8.6" fill="#404040" textLength="186.5" lengthAdjust="spacingAndGlyphs">Subsequent 10 Year Annualized Excess Returns</text>
</svg></body></html>
